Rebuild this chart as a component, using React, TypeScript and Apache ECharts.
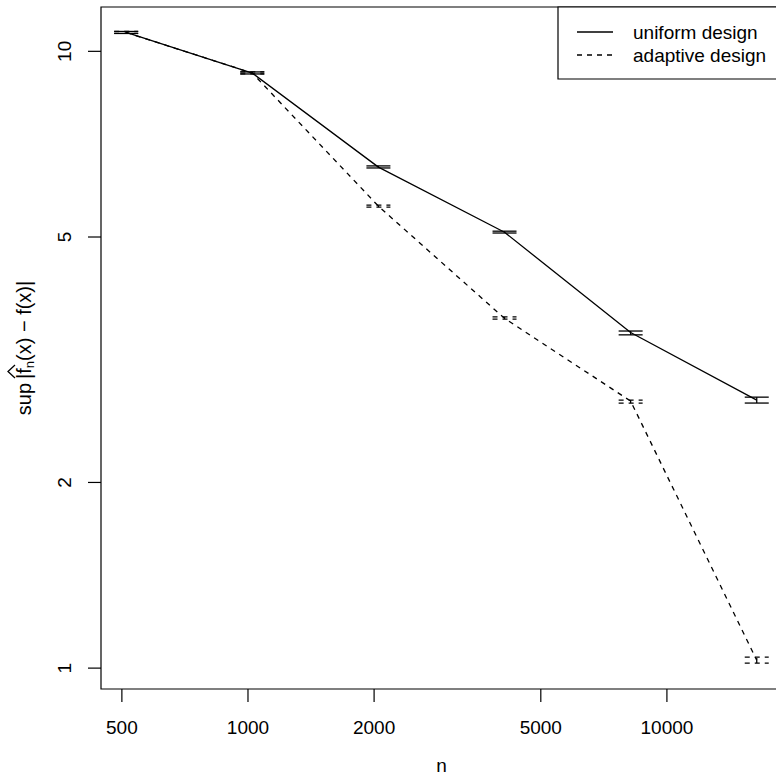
import React, { useEffect, useRef } from "react";
import * as echarts from "echarts";

const sampleSizes = [512, 1024, 2048, 4096, 8192, 16384];
const uniformMean = [10.73, 9.22, 6.49, 5.09, 3.5, 2.72];
const uniformLower = [10.69, 9.19, 6.47, 5.075, 3.47, 2.69];
const uniformUpper = [10.77, 9.26, 6.52, 5.11, 3.52, 2.75];
const adaptiveMean = [10.73, 9.22, 5.61, 3.69, 2.71, 1.03];
const adaptiveLower = [10.69, 9.19, 5.59, 3.68, 2.69, 1.019];
const adaptiveUpper = [10.77, 9.26, 5.63, 3.71, 2.72, 1.042];
const xTickValues = [500, 1000, 2000, 5000, 10000];
const yTickValues = [1, 2, 5, 10];
const legendNames = ["uniform design", "adaptive design"];

const X_MIN = 445.8;
const X_MAX = 18824;
const Y_MIN = 0.925;
const Y_MAX = 11.8;
const FONT = "'Liberation Sans', Arial, Helvetica, sans-serif";
const FS = 19;
const DASH = [5, 5];

export default function App() {
  const ref = useRef<HTMLDivElement>(null);
  useEffect(() => {
    if (!ref.current) return;
    const chart = echarts.init(ref.current, null, { renderer: "svg" });

    const errorBarSeries = (lower: number[], upper: number[], dash: any) => ({
      type: "custom",
      silent: true,
      clip: false,
      encode: { x: 0, y: [1, 2] },
      data: sampleSizes.map((n, i) => [n, lower[i], upper[i]]),
      renderItem: (params: any, api: any) => {
        const x = api.value(0);
        const pLo = api.coord([x, api.value(1)]);
        const pHi = api.coord([x, api.value(2)]);
        const w = 12;
        const style = { stroke: "#000", lineWidth: 1.3, lineDash: dash, fill: null };
        return {
          type: "group",
          children: [
            { type: "line", shape: { x1: pLo[0] - w, y1: pLo[1], x2: pLo[0] + w, y2: pLo[1] }, style },
            { type: "line", shape: { x1: pHi[0] - w, y1: pHi[1], x2: pHi[0] + w, y2: pHi[1] }, style },
            { type: "line", shape: { x1: pLo[0], y1: pLo[1], x2: pHi[0], y2: pHi[1] }, style },
          ],
        };
      },
    });

    const option: any = {
      animation: false,
      grid: {
        show: true,
        left: 101,
        top: 7,
        right: -6,
        bottom: 86,
        outerBoundsMode: "none",
        containLabel: false,
        borderColor: "#000",
        borderWidth: 1.2,
        backgroundColor: "transparent",
      },
      xAxis: {
        type: "log",
        logBase: 10,
        min: X_MIN,
        max: X_MAX,
        axisLine: { show: false },
        axisTick: { show: false },
        axisLabel: { show: false },
        splitLine: { show: false },
        minorTick: { show: false },
        name: "n",
        nameLocation: "middle",
        nameGap: 67,
        nameTextStyle: { fontSize: FS, fontFamily: FONT, color: "#000" },
      },
      yAxis: {
        type: "log",
        logBase: 10,
        min: Y_MIN,
        max: Y_MAX,
        axisLine: { show: false },
        axisTick: { show: false },
        axisLabel: { show: false },
        splitLine: { show: false },
        name: "{a|sup\u2009|f}{b|n}{a|(x) \u2212 f(x)|}",
        nameLocation: "middle",
        nameGap: 65,
        nameRotate: 90,
        nameTextStyle: {
          fontSize: 20,
          fontFamily: FONT,
          color: "#000",
          rich: {
            a: { fontSize: 20, fontFamily: FONT, color: "#000", lineHeight: 24 },
            b: { fontSize: 13, fontFamily: FONT, color: "#000", lineHeight: 13, verticalAlign: "bottom" },
          },
        },
      },
      series: [
        {
          type: "line",
          name: legendNames[0],
          data: sampleSizes.map((n, i) => [n, uniformMean[i]]),
          symbol: "none",
          lineStyle: { color: "#000", width: 1.3, type: "solid" },
          silent: true,
        },
        {
          type: "line",
          name: legendNames[1],
          data: sampleSizes.map((n, i) => [n, adaptiveMean[i]]),
          symbol: "none",
          lineStyle: { color: "#000", width: 1.3, type: DASH },
          silent: true,
        },
        errorBarSeries(uniformLower, uniformUpper, null),
        errorBarSeries(adaptiveLower, adaptiveUpper, DASH),
        {
          type: "custom",
          silent: true,
          clip: false,
          data: xTickValues.map((v) => [v, Y_MIN]),
          renderItem: (params: any, api: any) => {
            const p = api.coord([api.value(0), api.value(1)]);
            return {
              type: "group",
              children: [
                { type: "line", shape: { x1: p[0], y1: p[1], x2: p[0], y2: p[1] + 13 }, style: { stroke: "#000", lineWidth: 1.2 } },
                {
                  type: "text",
                  x: p[0],
                  y: p[1] + 38,
                  style: {
                    text: String(xTickValues[params.dataIndex]),
                    fontSize: FS,
                    fontFamily: FONT,
                    fill: "#000",
                    align: "center",
                    verticalAlign: "middle",
                  },
                },
              ],
            };
          },
        },
        {
          type: "custom",
          silent: true,
          clip: false,
          data: yTickValues.map((v) => [X_MIN, v]),
          renderItem: (params: any, api: any) => {
            const p = api.coord([api.value(0), api.value(1)]);
            return {
              type: "group",
              children: [
                { type: "line", shape: { x1: p[0] - 13, y1: p[1], x2: p[0], y2: p[1] }, style: { stroke: "#000", lineWidth: 1.2 } },
                {
                  type: "text",
                  x: p[0] - 37,
                  y: p[1],
                  rotation: Math.PI / 2,
                  style: {
                    text: String(yTickValues[params.dataIndex]),
                    fontSize: FS,
                    fontFamily: FONT,
                    fill: "#000",
                    align: "center",
                    verticalAlign: "middle",
                  },
                },
              ],
            };
          },
        },
      ],
      graphic: [
        {
          type: "polyline",
          shape: { points: [[15, 378], [8, 371.5], [15, 365]] },
          style: { stroke: "#000", lineWidth: 1.3, fill: null },
        },
        {
          type: "rect",
          shape: { x: 558, y: 7, width: 240, height: 72 },
          style: { fill: "#fff", stroke: "#000", lineWidth: 1.2 },
          z: 10,
        },
        {
          type: "line",
          shape: { x1: 577, y1: 32, x2: 613, y2: 32 },
          style: { stroke: "#000", lineWidth: 1.3 },
          z: 11,
        },
        {
          type: "line",
          shape: { x1: 577, y1: 55, x2: 613, y2: 55 },
          style: { stroke: "#000", lineWidth: 1.3, lineDash: DASH },
          z: 11,
        },
        {
          type: "text",
          x: 633,
          y: 32,
          style: { text: legendNames[0], fontSize: FS, fontFamily: FONT, fill: "#000", verticalAlign: "middle" },
          z: 11,
        },
        {
          type: "text",
          x: 633,
          y: 55,
          style: { text: legendNames[1], fontSize: FS, fontFamily: FONT, fill: "#000", verticalAlign: "middle" },
          z: 11,
        },
      ],
    };
    chart.setOption(option);
    return () => chart.dispose();
  }, []);
  return (
    <div
      ref={ref}
      style={{ position: "fixed", left: 0, top: 0, width: 776, height: 775, background: "#fff" }}
    />
  );
}
